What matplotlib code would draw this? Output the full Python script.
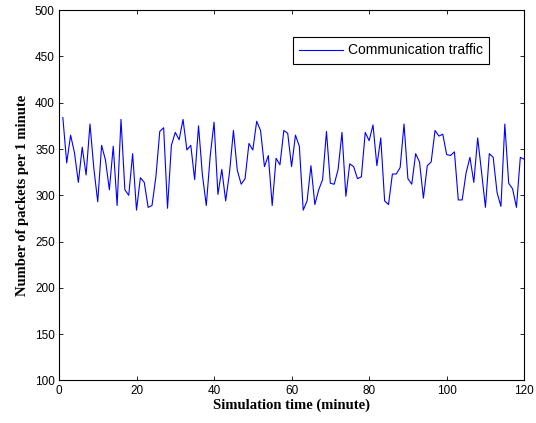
import matplotlib
matplotlib.use("Agg")
import matplotlib.pyplot as plt
import numpy as np

# packets per minute (t = 1..120)
minutes = np.arange(1, 121)
packets = [
    384, 335, 365, 346, 314, 352, 322, 377, 329, 293,
    354, 338, 306, 353, 289, 382, 306, 300, 345, 284,
    319, 314, 287, 289, 320, 369, 373, 286, 354, 368,
    360, 382, 349, 354, 317, 375, 322, 289, 342, 379,
    301, 328, 294, 325, 370, 327, 312, 318, 356, 349,
    380, 370, 331, 343, 289, 340, 333, 370, 367, 331,
    365, 353, 284, 294, 332, 290, 306, 317, 369, 313,
    312, 328, 368, 299, 334, 331, 318, 320, 368, 359,
    376, 332, 362, 294, 290, 323, 323, 330, 377, 318,
    312, 345, 336, 297, 332, 336, 370, 364, 366, 344,
    343, 347, 295, 295, 324, 341, 314, 362, 325, 287,
    345, 341, 303, 288, 377, 313, 307, 287, 341, 339,
]
series_label = "Communication traffic"
x_ticks = [0, 20, 40, 60, 80, 100, 120]
y_ticks = [100, 150, 200, 250, 300, 350, 400, 450, 500]

plt.rcParams['font.family'] = ['Liberation Sans', 'DejaVu Sans']

fig = plt.figure(figsize=(5.36, 4.23), dpi=100)
ax = fig.add_axes([0.110, 0.1005, 0.868, 0.8755])

ax.plot(minutes, packets, color=(0, 0, 1), linewidth=0.8, label=series_label)

ax.set_xlim(0, 120)
ax.set_ylim(100, 500)
ax.set_xticks(x_ticks)
ax.set_yticks(y_ticks)
ax.tick_params(direction='in', top=True, right=True, labelsize=8.5,
               length=3, width=0.6, pad=3)
for s in ax.spines.values():
    s.set_linewidth(0.8)

label_font = dict(family='Liberation Serif', fontweight='bold', fontsize=10.5)
ax.set_xlabel("Simulation time (minute)", labelpad=1, **label_font)
ax.set_ylabel("Number of packets per 1 minute", labelpad=4, **label_font)

leg = ax.legend(loc='upper right', bbox_to_anchor=(0.925, 0.927),
                borderaxespad=0, fancybox=False, framealpha=1,
                edgecolor='black', fontsize=10, handlelength=3.1,
                borderpad=0.45, handletextpad=0.4)
leg.get_frame().set_linewidth(0.8)

fig.savefig("out.png", dpi=100)
